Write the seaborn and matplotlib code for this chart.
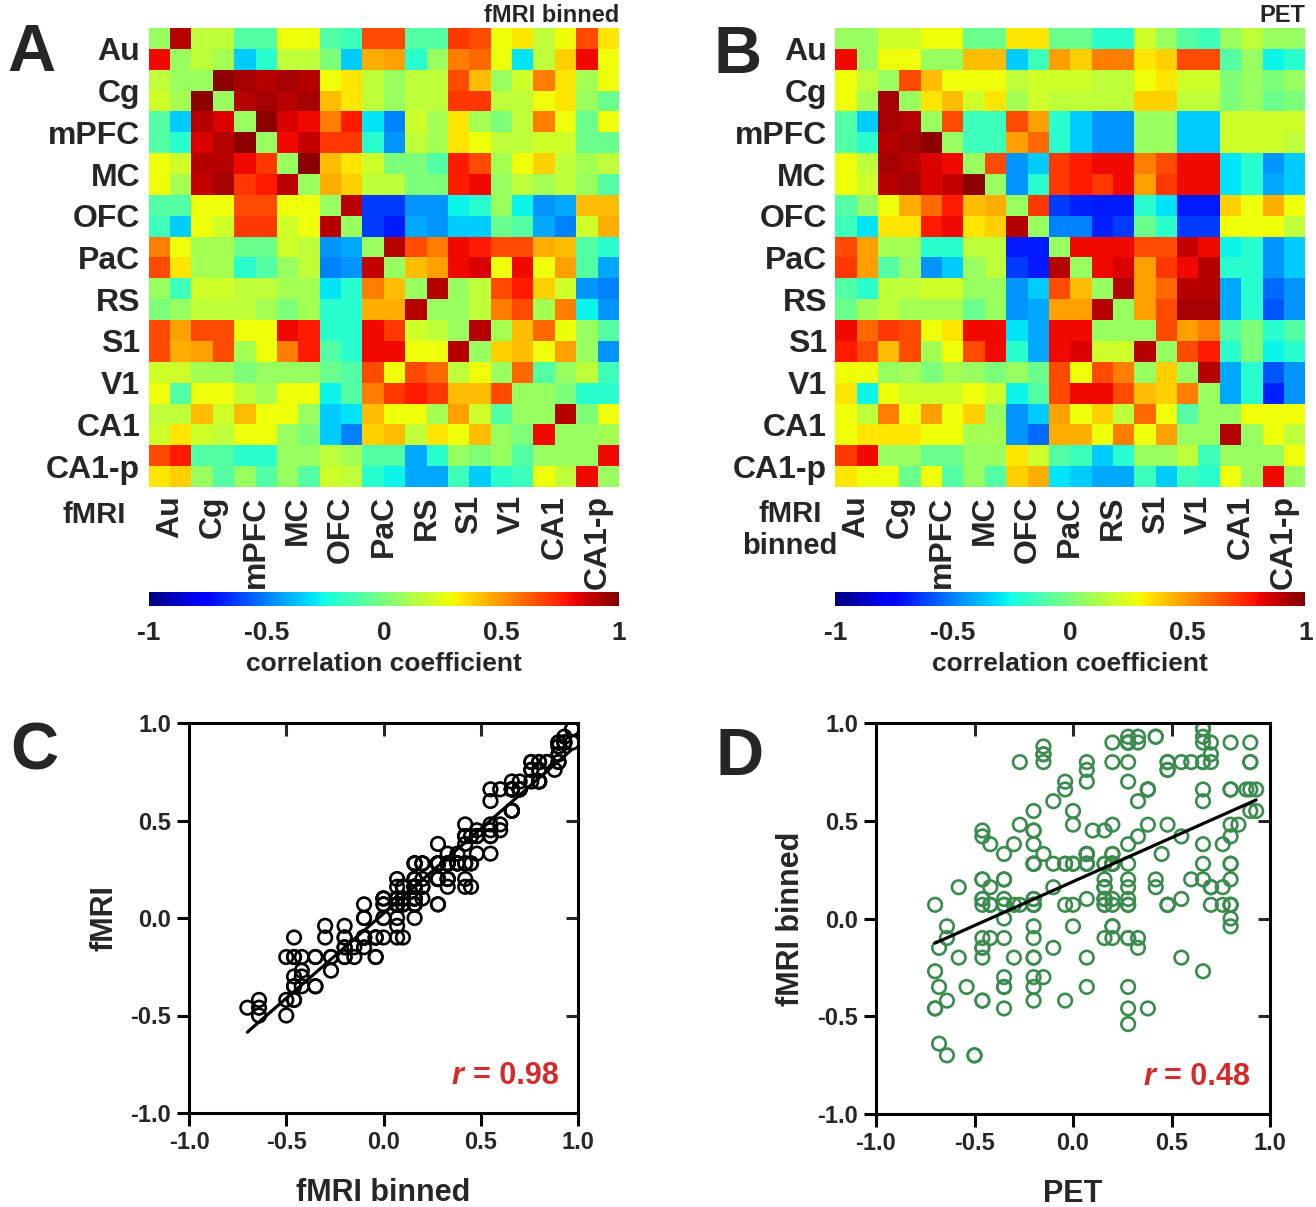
import numpy as np
import matplotlib
matplotlib.use("Agg")
import matplotlib.pyplot as plt
import seaborn as sns

regions = ["Au", "Cg", "mPFC", "MC", "OFC", "PaC", "RS", "S1", "V1", "CA1", "CA1-p"]

# panel A: upper triangle = fMRI binned, lower triangle = fMRI (left/right hemisphere per region)
corr_fmri = [
  [0.07, 0.9, 0.16, 0.16, -0.1, -0.1, 0.28, 0.28, -0.1, -0.15, 0.66, 0.66, -0.1, -0.1, 0.7, 0.66, 0.28, 0.33, 0.16, 0.28, 0.66, 0.33],
  [0.8, 0.07, 0.16, 0.1, -0.35, -0.2, 0.16, 0.16, 0.0, -0.35, 0.45, 0.48, -0.2, 0.07, 0.55, 0.6, 0.28, -0.3, 0.16, 0.38, 0.8, 0.28],
  [0.16, 0.07, 0.07, 0.97, 0.93, 0.9, 0.93, 0.9, 0.28, 0.33, 0.16, 0.07, 0.16, 0.16, 0.66, 0.42, 0.07, 0.2, 0.55, 0.33, 0.1, 0.28],
  [0.2, 0.1, 0.97, 0.07, 0.9, 0.93, 0.9, 0.93, 0.42, 0.33, 0.16, 0.07, 0.16, 0.16, 0.7, 0.7, 0.16, 0.16, 0.28, 0.33, 0.07, -0.04],
  [-0.1, -0.35, 0.9, 0.84, 0.07, 0.97, 0.84, 0.8, 0.55, 0.76, -0.3, -0.5, 0.2, 0.1, 0.33, 0.1, 0.0, 0.16, 0.55, 0.28, -0.04, 0.28],
  [-0.1, -0.2, 0.84, 0.9, 0.97, 0.07, 0.8, 0.88, 0.7, 0.7, -0.2, -0.46, 0.16, 0.1, 0.33, 0.28, 0.16, 0.16, 0.2, 0.2, -0.04, -0.04],
  [0.28, 0.2, 0.9, 0.9, 0.8, 0.7, 0.07, 0.97, 0.42, 0.33, 0.2, 0.0, 0.0, -0.1, 0.76, 0.66, 0.1, 0.28, 0.38, 0.16, 0.1, 0.16],
  [0.28, 0.1, 0.88, 0.93, 0.7, 0.76, 0.9, 0.07, 0.45, 0.38, 0.16, 0.16, 0.0, 0.0, 0.76, 0.8, 0.07, 0.16, 0.1, 0.16, 0.07, -0.1],
  [-0.1, -0.1, 0.28, 0.28, 0.66, 0.66, 0.28, 0.28, 0.07, 0.9, -0.64, -0.64, -0.46, -0.46, -0.27, -0.2, 0.07, -0.27, -0.46, -0.42, 0.42, 0.42],
  [-0.15, -0.35, 0.28, 0.2, 0.7, 0.7, 0.2, 0.28, 0.9, 0.07, -0.64, -0.7, -0.42, -0.46, -0.35, -0.35, -0.04, -0.1, -0.42, -0.5, 0.2, 0.45],
  [0.55, 0.28, 0.1, 0.1, -0.04, -0.04, 0.2, 0.16, -0.46, -0.42, 0.07, 0.9, 0.66, 0.55, 0.8, 0.76, 0.66, 0.66, 0.45, 0.42, -0.1, -0.2],
  [0.66, 0.33, 0.1, 0.1, -0.2, -0.1, 0.07, 0.16, -0.5, -0.46, 0.88, 0.07, 0.42, 0.48, 0.8, 0.84, 0.28, 0.8, 0.28, 0.48, -0.1, -0.42],
  [0.07, -0.15, 0.2, 0.2, 0.16, 0.16, 0.1, 0.1, -0.3, -0.2, 0.55, 0.42, 0.07, 0.9, 0.07, 0.16, 0.66, 0.76, 0.38, 0.2, -0.46, -0.5],
  [0.0, 0.07, 0.16, 0.16, 0.16, 0.1, 0.0, 0.1, -0.2, -0.2, 0.45, 0.45, 0.9, 0.07, 0.07, 0.16, 0.55, 0.66, 0.1, 0.55, -0.27, -0.46],
  [0.66, 0.48, 0.66, 0.66, 0.28, 0.28, 0.8, 0.76, -0.2, -0.2, 0.8, 0.7, 0.2, 0.16, 0.07, 0.9, 0.1, 0.42, 0.6, 0.28, 0.07, -0.1],
  [0.66, 0.45, 0.48, 0.66, 0.1, 0.28, 0.55, 0.76, -0.1, -0.2, 0.8, 0.8, 0.28, 0.28, 0.9, 0.07, 0.38, 0.42, 0.28, 0.48, 0.07, -0.46],
  [0.2, 0.2, 0.1, 0.1, 0.0, 0.07, 0.07, 0.07, -0.04, -0.1, 0.66, 0.28, 0.66, 0.6, 0.16, 0.28, 0.07, 0.6, -0.1, 0.07, 0.16, -0.15],
  [0.28, -0.1, 0.28, 0.28, 0.16, 0.1, 0.28, 0.28, -0.27, -0.1, 0.55, 0.7, 0.76, 0.7, 0.42, 0.42, 0.66, 0.07, 0.07, 0.0, -0.2, -0.2],
  [0.16, 0.16, 0.42, 0.2, 0.42, 0.28, 0.28, 0.07, -0.35, -0.3, 0.42, 0.28, 0.28, 0.1, 0.48, 0.2, -0.1, 0.07, 0.07, 0.9, 0.0, 0.28],
  [0.2, 0.33, 0.2, 0.16, 0.28, 0.28, 0.07, 0.0, -0.35, -0.5, 0.38, 0.42, 0.16, 0.33, 0.28, 0.42, 0.07, 0.0, 0.8, 0.07, 0.07, 0.1],
  [0.66, 0.76, -0.1, -0.1, -0.2, -0.2, 0.07, 0.07, 0.16, 0.1, -0.1, -0.1, -0.42, -0.2, 0.07, 0.0, 0.07, -0.1, 0.07, 0.07, 0.07, 0.8],
  [0.33, 0.38, 0.07, -0.1, 0.07, -0.1, 0.07, -0.1, 0.2, 0.16, -0.2, -0.27, -0.42, -0.42, -0.15, -0.35, -0.2, -0.15, 0.28, 0.16, 0.8, 0.07],
]

# panel B: upper triangle = PET, lower triangle = fMRI binned
corr_pet = [
  [0.07, 0.07, 0.2, 0.2, 0.28, 0.28, -0.04, -0.04, 0.33, 0.33, -0.04, -0.04, -0.2, -0.2, 0.2, 0.07, -0.1, -0.15, 0.07, 0.16, 0.07, 0.07],
  [0.8, 0.07, 0.28, 0.28, 0.07, 0.07, 0.42, 0.42, -0.35, -0.15, 0.48, 0.38, 0.55, 0.55, 0.33, 0.38, 0.66, 0.66, -0.1, 0.07, -0.27, -0.2],
  [0.28, 0.16, 0.07, 0.66, 0.42, 0.28, 0.28, 0.28, 0.16, 0.2, 0.2, 0.2, 0.16, 0.16, 0.28, 0.33, 0.2, 0.2, 0.0, 0.07, 0.0, 0.07],
  [0.28, 0.1, 0.93, 0.07, 0.33, 0.42, 0.2, 0.33, 0.1, 0.2, 0.16, 0.16, 0.16, 0.16, 0.38, 0.38, 0.16, 0.16, 0.0, 0.07, -0.04, 0.0],
  [-0.1, -0.35, 0.93, 0.9, 0.07, 0.66, -0.15, -0.15, 0.66, 0.48, -0.2, -0.35, -0.46, -0.46, 0.07, 0.07, -0.35, -0.35, 0.2, 0.2, 0.2, 0.2],
  [-0.1, -0.2, 0.9, 0.93, 0.97, 0.07, -0.15, -0.15, 0.48, 0.6, -0.2, -0.35, -0.46, -0.46, 0.07, 0.07, -0.35, -0.35, 0.2, 0.2, 0.2, 0.16],
  [0.28, 0.16, 0.93, 0.9, 0.84, 0.8, 0.07, 0.66, -0.46, -0.35, 0.7, 0.76, 0.8, 0.8, 0.55, 0.66, 0.8, 0.8, -0.3, -0.2, -0.46, -0.35],
  [0.28, 0.2, 0.9, 0.93, 0.84, 0.88, 0.97, 0.07, -0.46, -0.2, 0.7, 0.76, 0.7, 0.8, 0.48, 0.7, 0.8, 0.8, -0.3, -0.2, -0.42, -0.35],
  [-0.1, 0.07, 0.28, 0.45, 0.6, 0.76, 0.42, 0.45, 0.07, 0.7, -0.64, -0.68, -0.7, -0.7, -0.2, -0.3, -0.7, -0.7, 0.38, 0.28, 0.45, 0.28],
  [-0.15, -0.3, 0.33, 0.33, 0.76, 0.8, 0.33, 0.38, 0.9, 0.07, -0.5, -0.5, -0.68, -0.64, -0.04, -0.2, -0.64, -0.64, 0.28, 0.28, 0.28, 0.16],
  [0.66, 0.48, 0.1, 0.1, -0.2, -0.2, 0.16, 0.16, -0.7, -0.7, 0.07, 0.8, 0.8, 0.8, 0.66, 0.66, 0.88, 0.8, -0.27, -0.2, -0.46, -0.35],
  [0.7, 0.48, -0.1, 0.07, -0.46, -0.35, 0.07, 0.16, -0.64, -0.7, 0.9, 0.07, 0.8, 0.84, 0.48, 0.7, 0.8, 0.9, -0.2, -0.2, -0.46, -0.35],
  [-0.1, -0.2, 0.16, 0.16, 0.2, 0.2, 0.07, 0.07, -0.46, -0.35, 0.66, 0.42, 0.07, 0.9, 0.48, 0.6, 0.9, 0.9, -0.42, -0.2, -0.54, -0.46],
  [-0.04, 0.1, 0.16, 0.1, 0.1, 0.1, -0.04, 0.07, -0.46, -0.42, 0.48, 0.48, 0.9, 0.07, 0.48, 0.66, 0.93, 0.93, -0.42, -0.2, -0.58, -0.46],
  [0.8, 0.6, 0.7, 0.66, 0.28, 0.33, 0.8, 0.8, -0.3, -0.42, 0.8, 0.8, 0.07, 0.07, 0.07, 0.66, 0.48, 0.55, -0.1, 0.0, -0.2, -0.1],
  [0.76, 0.66, 0.42, 0.66, 0.1, 0.28, 0.66, 0.8, -0.2, -0.42, 0.8, 0.84, 0.2, 0.2, 0.9, 0.07, 0.66, 0.76, -0.2, 0.0, -0.27, -0.2],
  [0.28, 0.28, 0.07, 0.1, 0.0, 0.1, 0.07, 0.0, 0.07, -0.04, 0.66, 0.28, 0.66, 0.55, 0.07, 0.38, 0.07, 0.9, -0.42, -0.2, -0.58, -0.46],
  [0.33, -0.27, 0.28, 0.2, 0.2, 0.2, 0.28, 0.2, -0.27, -0.1, 0.66, 0.8, 0.8, 0.66, 0.42, 0.38, 0.55, 0.07, -0.42, -0.2, -0.68, -0.46],
  [0.28, 0.16, 0.55, 0.28, 0.48, 0.28, 0.38, 0.07, -0.46, -0.35, 0.48, 0.28, 0.38, 0.16, 0.6, 0.28, -0.1, 0.07, 0.07, 0.28, 0.28, 0.28],
  [0.28, 0.33, 0.33, 0.33, 0.28, 0.28, 0.1, 0.1, -0.46, -0.54, 0.45, 0.45, 0.28, 0.55, 0.28, 0.48, 0.07, 0.07, 0.9, 0.07, 0.28, 0.16],
  [0.7, 0.8, 0.07, 0.07, -0.04, -0.04, 0.07, 0.07, 0.33, 0.2, -0.1, -0.15, -0.35, -0.2, 0.07, 0.07, 0.16, -0.15, 0.07, 0.07, 0.07, 0.28],
  [0.33, 0.28, 0.28, -0.04, 0.28, -0.1, 0.07, -0.1, 0.38, 0.45, -0.3, -0.35, -0.42, -0.42, -0.15, -0.35, -0.15, -0.2, 0.28, 0.07, 0.8, 0.07],
]

cbar_ticks = [-1, -0.5, 0, 0.5, 1]
cbar_labels = ["-1", "-0.5", "0", "0.5", "1"]
axis_ticks = [-1.0, -0.5, 0.0, 0.5, 1.0]
r_fmri = 0.98
r_pet = 0.48

sns.set_style("white")
plt.rcParams.update({
  "font.family": ["Liberation Sans", "DejaVu Sans"],
  "font.weight": "bold",
  "axes.labelweight": "bold",
  "axes.unicode_minus": False,
})

W, H = 1316, 1207
fig = plt.figure(figsize=(W / 100, H / 100), dpi=100)


def px(x0, y0, x1, y1):
  # pixel box (top-left origin) -> figure fraction
  return [x0 / W, 1 - y1 / H, (x1 - x0) / W, (y1 - y0) / H]


def draw_heatmap(data, heat_box, cbar_box):
  ax = fig.add_axes(px(*heat_box))
  cax = fig.add_axes(px(*cbar_box))
  sns.heatmap(np.array(data), ax=ax, cbar_ax=cax, cmap="jet", vmin=-1, vmax=1,
              xticklabels=False, yticklabels=False,
              cbar_kws={"orientation": "horizontal", "ticks": cbar_ticks})
  pos = np.arange(1, len(data), 2)
  ax.set_xticks(pos)
  ax.set_xticklabels(regions, rotation=90, fontsize=23, fontweight="bold")
  ax.set_yticks(pos)
  ax.set_yticklabels(regions, rotation=0, fontsize=23, fontweight="bold")
  ax.tick_params(direction="in", length=4, width=0.8, color="#555555", pad=6)
  cbar = ax.collections[0].colorbar
  cbar.outline.set_visible(False)
  cax.set_xticklabels(cbar_labels, fontsize=19, fontweight="bold")
  cax.tick_params(length=0, pad=11)
  cax.set_xlabel("correlation coefficient", fontsize=19, fontweight="bold", labelpad=5)
  return ax


def draw_scatter(box, x, y, color, xlabel, ylabel, r):
  ax = fig.add_axes(px(*box))
  sns.regplot(x=x, y=y, ax=ax, ci=None, color=color, marker="o",
              scatter_kws={"facecolors": "none", "s": 95, "linewidths": 1.9, "alpha": 1},
              line_kws={"color": "black", "lw": 2.3})
  ax.set_xlim(-1, 1)
  ax.set_ylim(-1, 1)
  ax.set_xticks(axis_ticks)
  ax.set_yticks(axis_ticks)
  ax.set_xticklabels([f"{t:.1f}" for t in axis_ticks])
  ax.set_yticklabels([f"{t:.1f}" for t in axis_ticks])
  ax.tick_params(direction="out", length=9, width=2.2, labelsize=17, pad=4,
                 bottom=True, left=True, color="black")
  for s in ax.spines.values():
    s.set_visible(True)
    s.set_linewidth(2.2)
    s.set_color("black")
  top = ax.secondary_xaxis("top")
  top.set_xticks(axis_ticks[1:-1])
  top.tick_params(direction="in", length=9, width=2.2, labeltop=False)
  right = ax.secondary_yaxis("right")
  right.set_yticks(axis_ticks[1:-1])
  right.tick_params(direction="in", length=9, width=2.2, labelright=False)
  ax.set_xlabel(xlabel, fontsize=22, labelpad=17)
  ax.set_ylabel(ylabel, fontsize=22, labelpad=8)
  t = ax.text(0.9, -0.81, f"= {r:.2f}", ha="right", va="center",
              color="#d42a2a", fontsize=22, fontweight="bold")
  ax.annotate("r ", xy=(0, 0.5), xycoords=t, ha="right", va="center",
              color="#d42a2a", fontsize=22, fontweight="bold", style="italic")
  return ax


draw_heatmap(corr_fmri, (148.7, 28, 619, 487), (148.7, 592, 619, 606))
draw_heatmap(corr_pet, (835.3, 28, 1305.3, 487), (835.3, 592, 1305.3, 606))

fig.text(619 / W, 1 - 15 / H, "fMRI binned", ha="right", va="center", fontsize=17, fontweight="bold")
fig.text(1305 / W, 1 - 15 / H, "PET", ha="right", va="center", fontsize=17, fontweight="bold")
fig.text(94 / W, 1 - 515 / H, "fMRI", ha="center", va="center", fontsize=21, fontweight="bold")
fig.text(790 / W, 1 - 530 / H, "fMRI\nbinned", ha="center", va="center", fontsize=21,
         fontweight="bold", linespacing=1.2)

# scatter points: one per pair of the 22 areas, taken from the two triangles of each matrix
A = np.array(corr_fmri)
B = np.array(corr_pet)
iu = np.triu_indices(len(A), k=1)
draw_scatter((189, 723, 578, 1113), A[iu], A.T[iu], "black", "fMRI binned", "fMRI", r_fmri)
draw_scatter((876, 723, 1270, 1114), B[iu], B.T[iu], "#3b8b4f", "PET", "fMRI binned", r_pet)

for letter, (lx, ly) in {"A": (31, 54), "B": (738, 56), "C": (34, 753), "D": (740, 758)}.items():
  fig.text(lx / W, 1 - ly / H, letter, ha="center", va="center", fontsize=48, fontweight="bold")

fig.savefig("out.png", dpi=100)
